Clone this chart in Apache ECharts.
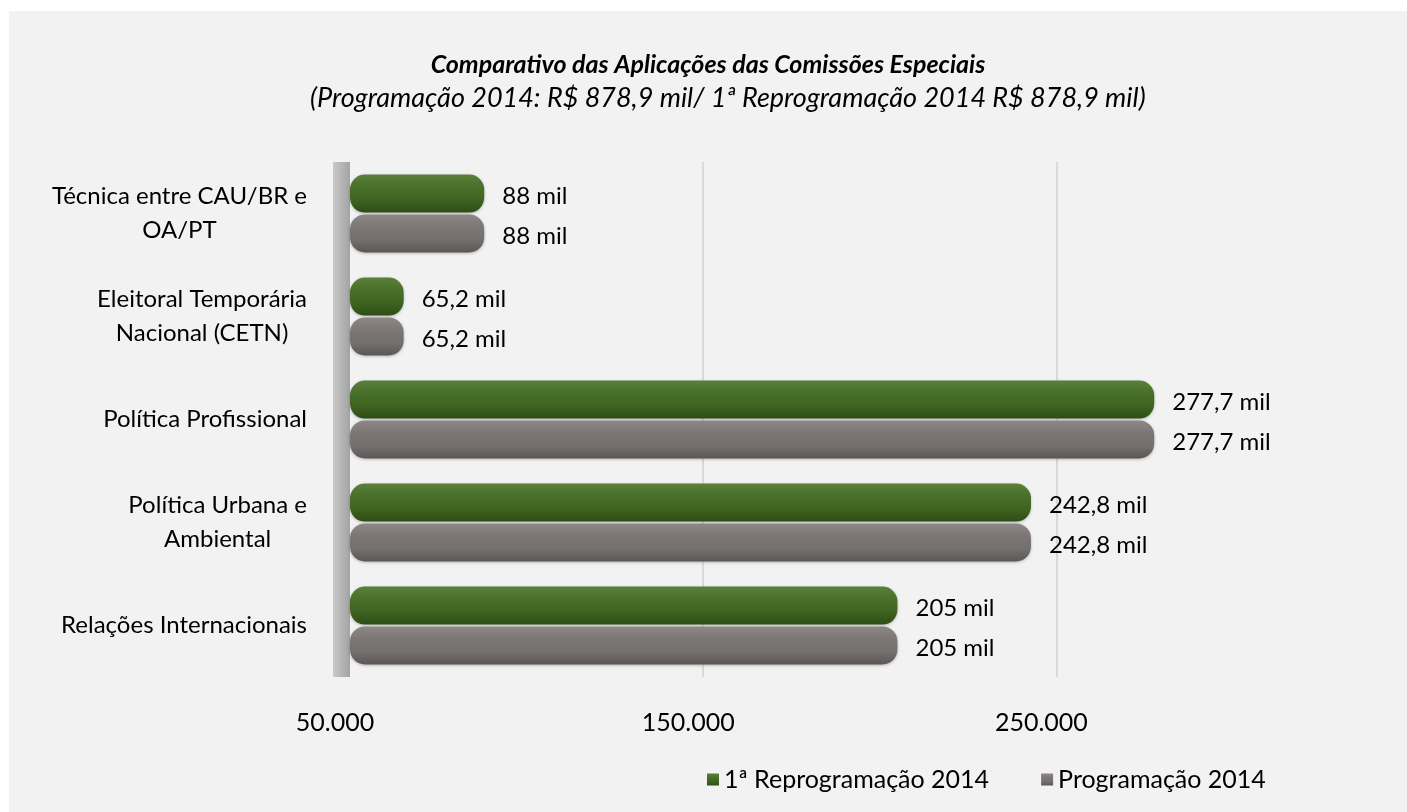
<!DOCTYPE html>
<html>
<head>
<meta charset="utf-8">
<script src="https://cdn.jsdelivr.net/npm/echarts@6/dist/echarts.min.js"></script>
<style>
  html, body { margin: 0; padding: 0; background: #ffffff; }
  #chart { position: absolute; left: 9px; top: 11px; width: 1398px; height: 801px; background: #f2f2f2; }
</style>
</head>
<body>
<div id="chart"></div>
<script>
// categories from top to bottom
const categories = [
  'Técnica entre CAU/BR e\nOA/PT',
  'Eleitoral Temporária\nNacional (CETN)',
  'Política Profissional',
  'Política Urbana e\nAmbiental',
  'Relações Internacionais'
]
const reprogramacao = [88000, 65200, 277700, 242800, 205000]
const programacao = [88000, 65200, 277700, 242800, 205000]
const seriesNames = ['1ª Reprogramação 2014', 'Programação 2014']

const FONT = 'Lato'

const chart = echarts.init(document.getElementById('chart'))

function milLabel(p) {
  return String(p.value / 1000).replace('.', ',') + ' mil'
}

function gradient(stops) {
  return new echarts.graphic.LinearGradient(0, 0, 0, 1, stops.map((c, i) => ({
    offset: i / (stops.length - 1), color: c,
  })))
}

const option = {
  animation: false,
  textStyle: { fontFamily: FONT },
  title: [
    {
      text: 'Comparativo das Aplicações das Comissões Especiais',
      left: 'center',
      top: 36,
      textStyle: { fontFamily: FONT, fontSize: 25, fontWeight: 'bold', fontStyle: 'italic', color: '#000' },
    },
    {
      text: '(Programação 2014: R$ 878,9 mil/ 1ª Reprogramação 2014 R$ 878,9 mil)',
      left: 296,
      top: 69,
      textStyle: { fontFamily: FONT, fontSize: 27, fontWeight: 'normal', fontStyle: 'italic', color: '#000' },
    },
  ],
  legend: {
    left: 693,
    top: 751,
    itemWidth: 12,
    itemHeight: 12,
    itemGap: 52,
    icon: 'rect',
    textStyle: { fontFamily: FONT, fontSize: 25, color: '#000' },
    data: seriesNames,
  },
  grid: {
    left: 341,
    top: 151,
    right: 174,
    bottom: 135,
    containLabel: false,
  },
  xAxis: {
    type: 'value',
    min: 50000,
    max: 300000,
    interval: 100000,
    axisLine: { show: false },
    axisTick: { show: false },
    axisLabel: {
      margin: 33,
      fontSize: 25,
      color: '#000',
      padding: [0, 30, 0, 0],
      showMaxLabel: false,
      formatter: v => v.toLocaleString('de-DE'),
    },
    splitLine: {
      show: true,
      showMinLine: false,
      showMaxLine: false,
      lineStyle: { color: '#d9d9d9', width: 2 },
    },
  },
  yAxis: {
    type: 'category',
    inverse: true,
    data: categories,
    offset: 9,
    axisTick: { show: false },
    axisLine: {
      show: true,
      lineStyle: {
        width: 17,
        cap: 'butt',
        color: new echarts.graphic.LinearGradient(0, 0, 1, 0, [
          { offset: 0, color: '#c9c9c9' },
          { offset: 1, color: '#a3a3a3' },
        ]),
      },
    },
    axisLabel: {
      margin: 34,
      align: 'right',
      fontSize: 24,
      lineHeight: 34,
      color: '#000',
      formatter: v => v.split('\n').map(s => '{c|' + s + '}').join('\n'),
      rich: {
        c: { align: 'center', fontFamily: FONT, fontSize: 24, lineHeight: 34, color: '#000' },
      },
    },
  },
  series: [
    {
      name: seriesNames[0],
      type: 'bar',
      data: reprogramacao,
      barWidth: 38,
      barGap: '5%',
      itemStyle: {
        color: gradient(['#5a7f3a', '#48702a', '#3f6421', '#2e4c16']),
        borderRadius: 15,
        shadowColor: 'rgba(0,0,0,0.25)',
        shadowBlur: 3,
        shadowOffsetY: 1,
      },
      label: {
        show: true,
        position: 'right',
        distance: 18,
        offset: [0, 3],
        fontFamily: FONT,
        fontSize: 24,
        color: '#000',
        formatter: milLabel,
      },
    },
    {
      name: seriesNames[1],
      type: 'bar',
      data: programacao,
      barWidth: 38,
      itemStyle: {
        color: gradient(['#8d8886', '#7c7674', '#747070', '#5b5755']),
        borderRadius: 15,
        shadowColor: 'rgba(0,0,0,0.25)',
        shadowBlur: 3,
        shadowOffsetY: 1,
      },
      label: {
        show: true,
        position: 'right',
        distance: 18,
        offset: [0, 3],
        fontFamily: FONT,
        fontSize: 24,
        color: '#000',
        formatter: milLabel,
      },
    },
  ],
}

chart.setOption(option)
</script>
</body>
</html>
